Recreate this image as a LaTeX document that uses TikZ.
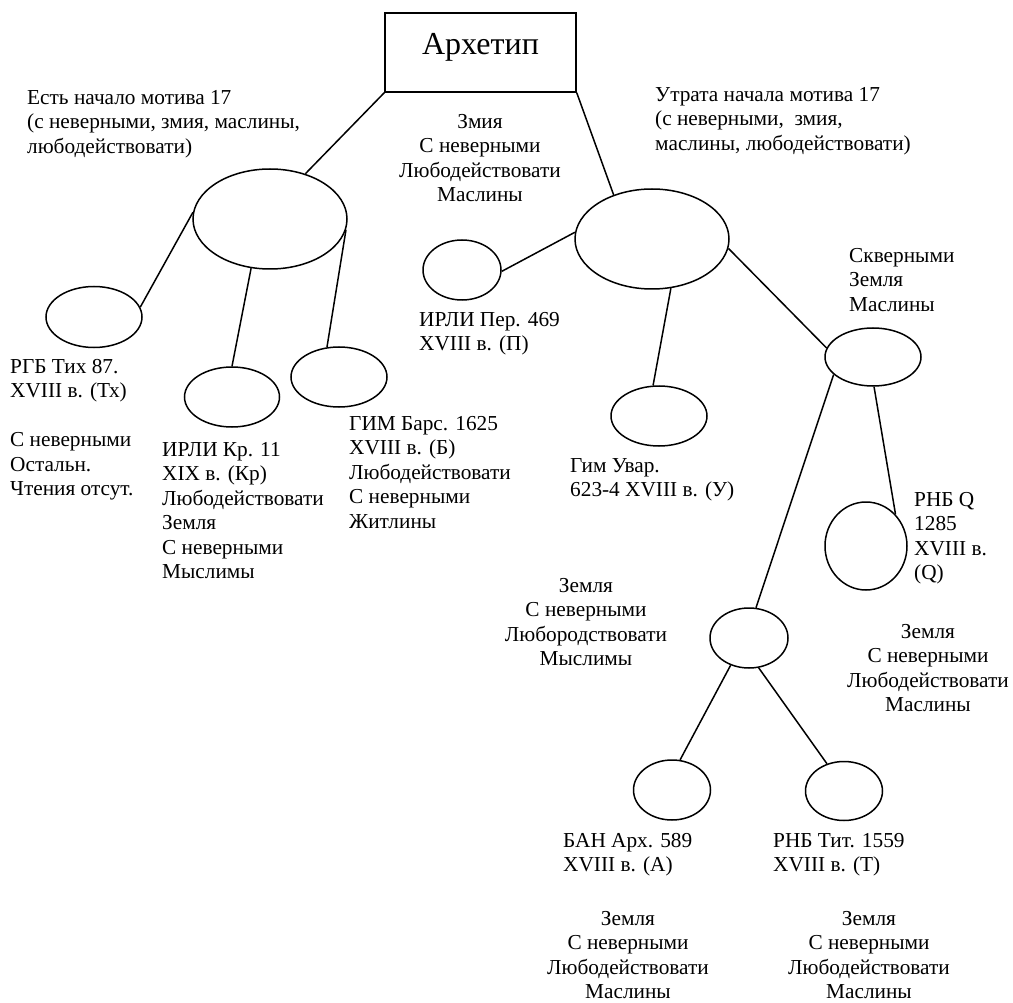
\documentclass[tikz,border=0pt]{standalone}
\usepackage{fontspec}
\setmainfont{Liberation Serif}
\usetikzlibrary{shapes.geometric}
\tikzset{
  ramka/.style={rectangle, draw, line width=1.5pt, minimum width=191pt,
    minimum height=79pt, inner sep=0pt, text depth=17pt,
    font=\fontsize{32}{38}\selectfont},
  uzel/.style={ellipse, draw, line width=1.5pt, inner sep=0pt},
  podpis/.style={anchor=north west, align=left, inner sep=0pt,
    font=\fontsize{21.3}{24.5}\selectfont},
  chtenie/.style={anchor=north, align=center, inner sep=0pt,
    font=\fontsize{21.3}{24.5}\selectfont},
  liniya/.style={line width=1.5pt}
}

\begin{document}
\begin{tikzpicture}[x=1pt, y=-1pt]
  \useasboundingbox (0,0) rectangle (1013,1003);
  \node[ramka] (arh) at (480.5,52.5) {Архетип};

  % левая ветвь
  \node[uzel, minimum width=154pt, minimum height=100pt] (e1) at (270,219) {};
  \node[uzel, minimum width=96pt, minimum height=61pt] (tx) at (94,317) {};
  \node[uzel, minimum width=95pt, minimum height=60pt] (kr) at (232,397) {};
  \node[uzel, minimum width=96pt, minimum height=60pt] (b) at (339,377) {};

  % правая ветвь
  \node[uzel, minimum width=154pt, minimum height=100pt] (e2) at (652,239) {};
  \node[uzel, minimum width=78pt, minimum height=60pt] (p) at (462,270) {};
  \node[uzel, minimum width=96pt, minimum height=60pt] (u) at (659,416) {};
  \node[uzel, minimum width=96pt, minimum height=58pt] (e3) at (873,357) {};
  \node[uzel, minimum width=82pt, minimum height=88pt] (q) at (866,546) {};
  \node[uzel, minimum width=78pt, minimum height=60pt] (e4) at (749,638) {};
  \node[uzel, minimum width=77pt, minimum height=60pt] (a) at (672,790) {};
  \node[uzel, minimum width=77pt, minimum height=59pt] (t) at (844,791) {};

  \draw[liniya] (arh.south west) -- (e1.52);
  \draw[liniya] (e1.175) -- (tx.12);
  \draw[liniya] (e1.249) -- (kr.90);
  \draw[liniya] (e1.352) -- (b.112);
  \draw[liniya] (arh.south east) -- (e2.131);
  \draw[liniya] (e2.175) -- (p.358);
  \draw[liniya] (e2.291) -- (u.101);
  \draw[liniya] (e2.353) -- (e3.169);
  \draw[liniya] (e3.272) -- (q.47);
  \draw[liniya] (e3.204) -- (e4.77);
  \draw[liniya] (e4.236) -- (a.75);
  \draw[liniya] (e4.288) -- (t.122);

  % подписи
  \node[podpis] (l1) at (27,90) {Есть начало мотива 17\\(с неверными, змия, маслины,\\любодействовати)};
  \node[podpis] (r1) at (655,87) {Утрата начала мотива 17\\(с неверными,\ \ змия,\\маслины, любодействовати)};
  \node[chtenie] (c1) at (480,114) {Змия\\С неверными\\Любодействовати\\Маслины};
  \node[podpis] (ltx) at (10,359) {РГБ Тих 87.\\XVIII в. (Тх)\\[24.5pt]С неверными\\Остальн.\\Чтения отсут.};
  \node[podpis] (lkr) at (162,442) {ИРЛИ Кр. 11\\XIX в. (Кр)\\Любодействовати\\Земля\\С неверными\\Мыслимы};
  \node[podpis] (lb) at (349,416) {ГИМ Барс. 1625\\XVIII в. (Б)\\Любодействовати\\С неверными\\Житлины};
  \node[podpis] (lp) at (419,312) {ИРЛИ Пер. 469\\XVIII в. (П)};
  \node[podpis] (lu) at (570,458) {Гим Увар.\\623-4 XVIII в. (У)};
  \node[podpis] (le3) at (849,248) {Скверными\\Земля\\Маслины};
  \node[podpis] (lq) at (914,492) {РНБ Q\\1285\\XVIII в.\\(Q)};
  \node[chtenie] (c2) at (586,578) {Земля\\С неверными\\Любородствовати\\Мыслимы};
  \node[chtenie] (c3) at (928,624) {Земля\\С неверными\\Любодействовати\\Маслины};
  \node[podpis] (la) at (563,833) {БАН Арх. 589\\XVIII в. (А)};
  \node[podpis] (lt) at (773,833) {РНБ Тит. 1559\\XVIII в. (Т)};
  \node[chtenie] (c4) at (628,911) {Земля\\С неверными\\Любодействовати\\Маслины};
  \node[chtenie] (c5) at (869,911) {Земля\\С неверными\\Любодействовати\\Маслины};
\end{tikzpicture}
\end{document}
